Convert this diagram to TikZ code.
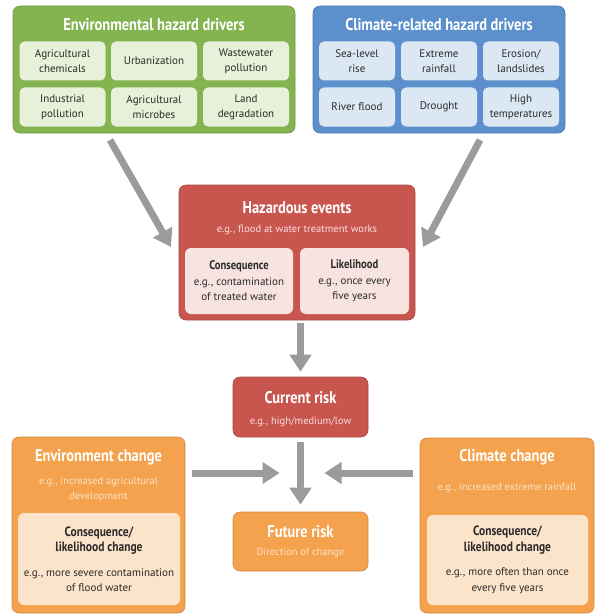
\documentclass[tikz,border=0pt]{standalone}
\usepackage{fontspec}
\setmainfont{PT Sans}[BoldFeatures={FakeStretch=0.85}]
\usetikzlibrary{arrows.meta}
\definecolor{hzgreen}{HTML}{84B450}
\definecolor{hzgreenlt}{HTML}{E7F0D9}
\definecolor{hzblue}{HTML}{5C90CC}
\definecolor{hzbluelt}{HTML}{DCE7F4}
\definecolor{hzred}{HTML}{C9554F}
\definecolor{hzredlt}{HTML}{F7E4E1}
\definecolor{hzorange}{HTML}{F4A24D}
\definecolor{hzorangelt}{HTML}{FCE4CA}
\definecolor{hzsuborange}{HTML}{FDE3C4}
\definecolor{hzsubred}{HTML}{F8DEDB}
\definecolor{hzgray}{HTML}{9B9B9D}
\definecolor{hztext}{HTML}{2A2A2A}

\begin{document}
\begin{tikzpicture}[
    x=1pt,y=-1pt,
    panel/.style={rounded corners=7pt, draw=#1!85!black, line width=0.6pt, fill=#1},
    cell/.style={rounded corners=5pt, fill=#1, minimum width=86pt, minimum height=39pt, align=center, inner sep=1pt, font=\fontsize{11}{15}\selectfont, text=hztext},
    headline/.style={font=\fontsize{17}{19}\selectfont\bfseries, text=white},
    subline/.style={font=\fontsize{10.5}{15}\selectfont, text=#1, align=center},
    inbox/.style={rounded corners=6pt, fill=#1, align=center, text=hztext, font=\fontsize{11}{15.5}\selectfont},
    bigarrow/.style={draw=hzgray, line width=7pt, -{Triangle[width=21pt,length=17pt]}}
  ]
    \useasboundingbox (0,0) rectangle (595,615);

    % hazard drivers
    \node[panel=hzgreen, minimum width=282pt, minimum height=127pt] (envdrivers) at (154,69.5) {};
    \node[headline] (envtitle) at (154,25) {Environmental hazard drivers};
    \node[cell=hzgreenlt] (agchem) at (62.5,61) {Agricultural\\chemicals};
    \node[cell=hzgreenlt] (urban) at (154,61) {Urbanization};
    \node[cell=hzgreenlt] (waste) at (246,61) {Wastewater\\pollution};
    \node[cell=hzgreenlt] (industry) at (62.5,107) {Industrial\\pollution};
    \node[cell=hzgreenlt] (agmicro) at (154,107) {Agricultural\\microbes};
    \node[cell=hzgreenlt] (landdeg) at (246,107) {Land\\degradation};

    \node[panel=hzblue, minimum width=252pt, minimum height=127pt] (climdrivers) at (439,69.5) {};
    \node[headline] (climtitle) at (439,25) {Climate-related hazard drivers};
    \node[cell=hzbluelt, minimum width=76pt] (sealevel) at (357,61) {Sea-level\\rise};
    \node[cell=hzbluelt, minimum width=76pt] (rainfall) at (439,61) {Extreme\\rainfall};
    \node[cell=hzbluelt, minimum width=76pt] (erosion) at (521,61) {Erosion/\\landslides};
    \node[cell=hzbluelt, minimum width=76pt] (riverflood) at (357,107) {River flood};
    \node[cell=hzbluelt, minimum width=76pt] (drought) at (439,107) {Drought};
    \node[cell=hzbluelt, minimum width=76pt] (hightemp) at (521,107) {High\\temperatures};

    % hazardous events
    \node[panel=hzred, minimum width=236pt, minimum height=135pt] (hazard) at (297,252.5) {};
    \node[headline] (hazardtitle) at (297,208) {Hazardous events};
    \node[subline=hzsubred] (hazardsub) at (297,230) {e.g., flood at water treatment works};
    \node[inbox=hzredlt, minimum width=108pt, minimum height=66pt] (consequence) at (239,281)
      {{\fontsize{12.5}{15.5}\selectfont\bfseries Consequence}\\e.g., contamination\\of treated water};
    \node[inbox=hzredlt, minimum width=109pt, minimum height=66pt] (likelihood) at (354.5,281)
      {{\fontsize{12.5}{15.5}\selectfont\bfseries Likelihood}\\e.g., once every\\five years};

    % risks
    \node[panel=hzred, minimum width=135pt, minimum height=60pt] (current) at (300.5,407) {};
    \node[headline] (currenttitle) at (300.5,398) {Current risk};
    \node[subline=hzsubred] (currentsub) at (300.5,422) {e.g., high/medium/low};

    \node[panel=hzorange, minimum width=135pt, minimum height=59pt] (future) at (300.5,541.5) {};
    \node[headline] (futuretitle) at (300.5,532) {Future risk};
    \node[subline=hzsuborange] (futuresub) at (300.5,553) {Direction of change};

    % changes
    \node[panel=hzorange, minimum width=173pt, minimum height=176pt] (envchange) at (98.5,525) {};
    \node[headline] (envchangetitle) at (98.5,457) {Environment change};
    \node[subline=hzsuborange] (envchangesub) at (98.5,489.5) {e.g., increased agricultural\\development};
    \node[inbox=hzorangelt, minimum width=162pt, minimum height=92pt] (envchangein) at (99,559)
      {{\fontsize{13.5}{17}\selectfont\bfseries Consequence/}\\{\fontsize{13.5}{17}\selectfont\bfseries likelihood change}\\[9pt]e.g., more severe contamination\\of flood water};

    \node[panel=hzorange, minimum width=174pt, minimum height=175pt] (climchange) at (507,525.5) {};
    \node[headline] (climchangetitle) at (507,457) {Climate change};
    \node[subline=hzsuborange] (climchangesub) at (507,488) {e.g., increased extreme rainfall};
    \node[inbox=hzorangelt, minimum width=161pt, minimum height=90pt] (climchangein) at (507.5,560)
      {{\fontsize{13.5}{17}\selectfont\bfseries Consequence/}\\{\fontsize{13.5}{17}\selectfont\bfseries likelihood change}\\[9pt]e.g., more often than once\\every five years};

    % arrows
    \coordinate (envtail) at (110,140);
    \coordinate (envtip) at (171,247);
    \coordinate (climtail) at (480,140);
    \coordinate (climtip) at (423,247);
    \coordinate (merge) at (300.5,473);

    \draw[bigarrow] (envtail) -- (envtip);
    \draw[bigarrow] (climtail) -- (climtip);
    \draw[bigarrow, shorten <=3pt, shorten >=5pt] (hazard.south -| current.north) -- (current.north);
    \draw[bigarrow, shorten <=5pt, shorten >=7pt] (current.south) -- (future.north);
    \draw[bigarrow, shorten <=7pt] (envchange.east |- merge) -- ([xshift=-21pt]merge);
    \draw[bigarrow, shorten <=7pt] (climchange.west |- merge) -- ([xshift=24pt]merge);
  \end{tikzpicture}
\end{document}
